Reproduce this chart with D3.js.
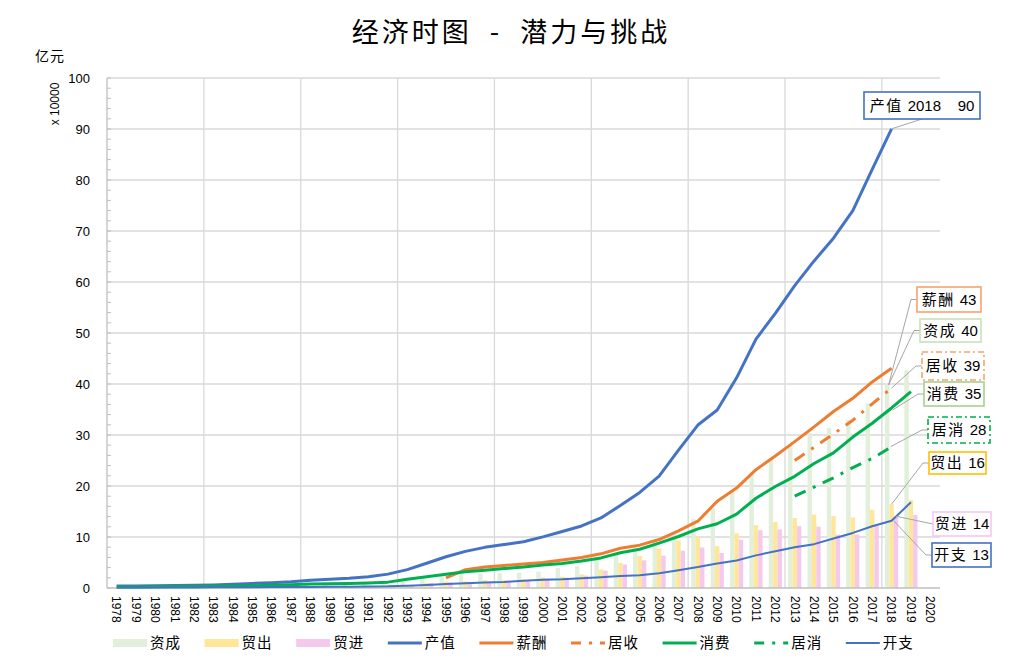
<!DOCTYPE html>
<html><head><meta charset="utf-8">
<script src="https://cdn.jsdelivr.net/npm/d3@7"></script>
<style>body{margin:0;background:#fff} svg{display:block}</style>
</head><body><svg id="c" width="1018" height="665"></svg>
<script>
// ---------------- DATA ----------------
const years = ["1978","1979","1980","1981","1982","1983","1984","1985","1986","1987","1988","1989","1990","1991","1992","1993","1994","1995","1996","1997","1998","1999","2000","2001","2002","2003","2004","2005","2006","2007","2008","2009","2010","2011","2012","2013","2014","2015","2016","2017","2018","2019","2020"];
const yTicks = [0,10,20,30,40,50,60,70,80,90,100];
// bars
const ziCheng = [0.14,0.15,0.16,0.16,0.18,0.2,0.25,0.34,0.38,0.44,0.57,0.61,0.64,0.75,1.0,1.5,1.9,2.3,2.7,2.8,2.9,3.0,3.2,3.9,4.3,5.5,6.8,7.8,9.0,11.0,13.5,15.6,18.8,22.6,25.2,28.0,30.4,31.4,33.0,36.2,39.8,42.7,null];
const maoChu = [0.02,0.02,0.03,0.04,0.04,0.04,0.06,0.08,0.11,0.15,0.18,0.2,0.3,0.38,0.47,0.53,1.04,1.25,1.29,1.52,1.52,1.69,2.06,2.22,2.69,3.63,4.91,6.26,7.76,9.35,10.04,8.2,10.7,12.32,12.93,13.72,14.39,14.12,13.84,15.33,16.42,17.23,null];
const maoJin = [0.02,0.02,0.03,0.04,0.04,0.04,0.06,0.13,0.15,0.16,0.21,0.22,0.25,0.34,0.44,0.6,0.99,1.1,1.16,1.18,1.16,1.37,1.86,2.02,2.44,3.42,4.62,5.43,6.34,7.31,7.95,6.86,9.47,11.32,11.48,12.12,12.04,10.45,10.49,12.47,14.09,14.31,null];
// lines
const chanZhi = [0.37,0.41,0.46,0.49,0.54,0.6,0.72,0.9,1.03,1.21,1.5,1.7,1.89,2.2,2.72,3.6,4.86,6.13,7.18,7.97,8.52,9.06,10.03,11.09,12.17,13.74,16.18,18.73,21.94,27.02,31.95,34.91,41.21,48.79,53.86,59.3,64.13,68.59,74.01,82.08,90.03,null,null];
const xinChou = [null,null,null,null,null,null,null,null,null,null,null,null,null,null,null,null,null,2.0,3.6,4.1,4.4,4.7,5.0,5.5,6.0,6.7,7.8,8.4,9.5,11.2,13.1,17.0,19.6,23.2,25.9,28.7,31.6,34.6,37.2,40.4,43.1,null,null];
const juShou = [null,null,null,null,null,null,null,null,null,null,null,null,null,null,null,null,null,null,null,null,null,null,null,null,null,null,null,null,null,null,null,null,null,null,null,25.0,27.6,30.2,32.9,36.1,39.2,null,null];
const xiaoFei = [0.2,0.22,0.25,0.28,0.3,0.33,0.38,0.45,0.55,0.65,0.8,0.85,0.9,1.0,1.15,1.7,2.2,2.7,3.2,3.5,3.8,4.1,4.5,4.8,5.3,5.9,6.9,7.6,8.8,10.1,11.6,12.6,14.5,17.6,19.9,21.9,24.4,26.5,29.6,32.3,35.3,38.5,null];
const juXiao = [null,null,null,null,null,null,null,null,null,null,null,null,null,null,null,null,null,null,null,null,null,null,null,null,null,null,null,null,null,null,null,null,null,null,null,18.0,19.8,21.6,23.6,25.4,27.7,null,null];
const kaiZhi = [0.1,0.1,0.1,0.1,0.12,0.13,0.15,0.17,0.18,0.2,0.22,0.24,0.26,0.28,0.32,0.45,0.6,0.8,0.95,1.1,1.2,1.4,1.6,1.7,1.9,2.1,2.35,2.5,2.9,3.5,4.1,4.8,5.4,6.4,7.2,8.0,8.6,9.7,10.8,12.1,13.2,16.8,null];

// ---------------- LAYOUT ----------------
const svg = d3.select('#c');
const M = {l:107, r:940, t:78, b:588};
const CJK = '"Noto Sans CJK SC", sans-serif';
const LAT = '"Liberation Sans", Arial, sans-serif';
const x = d3.scaleBand().domain(years).range([M.l, M.r]);
const bw = x.bandwidth();
const cx = d => x(d) + bw/2;
const y = d3.scaleLinear().domain([0,100]).range([M.b, M.t]);
const barKeys = ['资成','贸出','贸进'];
const xi = d3.scaleBand().domain(barKeys).range([-6.6, 6.6]);
const NB = '\u00a0';

// title
svg.append('text').attr('x',511).attr('y',42).attr('text-anchor','middle')
  .attr('font-family',CJK).attr('font-size',27).attr('letter-spacing',3).attr('fill','#000')
  .text('经济时图' + NB + NB + '-' + NB + NB + '潜力与挑战');

// gridlines
const grid = svg.append('g').attr('stroke','#d9d9d9').attr('stroke-width',1.3);
grid.selectAll('line.h').data(yTicks.slice(1)).join('line').attr('class','h')
  .attr('x1',M.l).attr('x2',M.r).attr('y1',d=>y(d)).attr('y2',d=>y(d));
grid.selectAll('line.v').data(years.filter((d,i)=>i>0 && i%5===0)).join('line').attr('class','v')
  .attr('x1',d=>x(d)).attr('x2',d=>x(d)).attr('y1',M.t).attr('y2',M.b);

// y axis
const ya = svg.append('g').attr('transform',`translate(${M.l},0)`)
  .call(d3.axisLeft(y).tickValues(yTicks).tickSize(0).tickPadding(17));
ya.select('.domain').remove();
ya.selectAll('text').attr('font-family',LAT).attr('font-size',13).attr('fill','#000');
svg.append('line').attr('x1',M.l).attr('x2',M.l).attr('y1',M.t).attr('y2',M.b).attr('stroke','#bfbfbf').attr('stroke-width',1.3);
svg.append('g').selectAll('line').data(d3.range(0,101,2)).join('line')
  .attr('x1',M.l).attr('x2',M.l+4).attr('y1',d=>y(d)).attr('y2',d=>y(d)).attr('stroke','#bfbfbf').attr('stroke-width',1);

svg.append('text').attr('transform','translate(59,104) rotate(-90)').attr('text-anchor','middle')
  .attr('font-family',LAT).attr('font-size',12).text('x 10000');
svg.append('text').attr('x',50).attr('y',61).attr('text-anchor','middle')
  .attr('font-family',CJK).attr('font-size',14).attr('letter-spacing',1).text('亿元');

// bars
const barSeries = [{k:'资成',v:ziCheng,c:'#e2efda'},{k:'贸出',v:maoChu,c:'#ffe699'},{k:'贸进',v:maoJin,c:'#f5c8ee'}];
const bars = svg.append('g');
barSeries.forEach(s=>{
  bars.selectAll(null).data(years.map((yr,i)=>({yr,v:s.v[i]})).filter(d=>d.v!=null)).join('rect')
    .attr('x',d=>cx(d.yr)+xi(s.k)).attr('width',xi.bandwidth())
    .attr('y',d=>y(d.v)).attr('height',d=>y(0)-y(d.v)).attr('fill',s.c);
});

// x axis
svg.append('line').attr('x1',M.l).attr('x2',M.r).attr('y1',M.b).attr('y2',M.b).attr('stroke','#bfbfbf').attr('stroke-width',1.3);
svg.append('g').selectAll('text').data(years).join('text')
  .attr('transform',d=>`translate(${cx(d)},596) rotate(90)`).attr('dy','0.35em')
  .attr('font-family',LAT).attr('font-size',12).attr('fill','#000').text(d=>d);

// lines
const lineSeries = [
  {k:'产值',v:chanZhi,c:'#4472c4',w:3,dash:null},
  {k:'薪酬',v:xinChou,c:'#ed7d31',w:3,dash:null},
  {k:'居收',v:juShou,c:'#ed7d31',w:3,dash:'12,8,3,8'},
  {k:'消费',v:xiaoFei,c:'#00b050',w:3,dash:null},
  {k:'居消',v:juXiao,c:'#00b050',w:3,dash:'12,8,3,8'},
  {k:'开支',v:kaiZhi,c:'#4472c4',w:2,dash:null}
];
const lg = d3.line().defined(d=>d!=null).x((d,i)=>cx(years[i])).y(d=>y(d));
lineSeries.forEach(s=>{
  svg.append('path').attr('d',lg(s.v)).attr('fill','none').attr('stroke',s.c).attr('stroke-width',s.w)
    .attr('stroke-linejoin','round').attr('stroke-dasharray',s.dash);
});

// callouts
const i18 = years.indexOf('2018');
const callouts = [
  {n:'产值', v:'2018' + NB + NB + NB + ' 90', bx:864, by:92, bw:116, bh:27, c:'#4472c4', dash:null, tx:cx('2018'), ty:y(chanZhi[i18]), lx:922, ly:119, mid:false},
  {n:'薪酬', v:'43', bx:917, by:287, bw:64, bh:25, c:'#f4a46c', dash:null, tx:cx('2018')-3, ty:y(ziCheng[i18]), mid:true},
  {n:'资成', v:'40', bx:920, by:319, bw:61, bh:23, c:'#c9e2b9', dash:null, tx:cx('2018')-3, ty:y(ziCheng[i18]), mid:true},
  {n:'居收', v:'39', bx:922, by:352, bw:62, bh:28, c:'#f4a46c', dash:'6,3,2,3', tx:cx('2018'), ty:y(juShou[i18]), mid:true},
  {n:'消费', v:'35', bx:924, by:382, bw:60, bh:24, c:'#a9d18e', dash:null, tx:cx('2018')+1, ty:y(xiaoFei[i18])+2, mid:true},
  {n:'居消', v:'28', bx:928, by:417, bw:62, bh:26, c:'#00b050', dash:'6,3,2,3', tx:cx('2018')-1, ty:y(juXiao[i18]), mid:true},
  {n:'贸出', v:'16', bx:929, by:452, bw:57, bh:22, c:'#ffc000', dash:null, tx:cx('2018'), ty:y(maoChu[i18]), mid:true},
  {n:'贸进', v:'14', bx:933, by:512, bw:58, bh:24, c:'#f5c8ee', dash:null, tx:cx('2018')+4, ty:y(maoJin[i18]), mid:true, straight:true},
  {n:'开支', v:'13', bx:932, by:543, bw:59, bh:24, c:'#4472c4', dash:null, tx:cx('2018')+2, ty:y(kaiZhi[i18]), mid:true}
];
const cg = svg.append('g');
callouts.forEach(o=>{
  let pts;
  if(!o.mid){ pts=[[o.lx,o.ly],[o.tx,o.ty]]; }
  else {
    const my = o.by + o.bh/2;
    pts = o.straight ? [[o.bx,my],[o.tx,o.ty]] : [[o.bx,my],[o.bx-6,my],[o.tx,o.ty]];
  }
  cg.append('path').attr('d',d3.line()(pts)).attr('fill','none').attr('stroke','#a6a6a6').attr('stroke-width',1);
  cg.append('rect').attr('x',o.bx).attr('y',o.by).attr('width',o.bw).attr('height',o.bh)
    .attr('fill','#fff').attr('stroke',o.c).attr('stroke-width',1.6).attr('stroke-dasharray',o.dash);
  const t = cg.append('text').attr('x',o.bx+o.bw/2).attr('y',o.by+o.bh/2).attr('dy','0.36em').attr('text-anchor','middle')
    .attr('font-size',15).attr('fill','#000');
  t.append('tspan').attr('font-family',CJK).attr('letter-spacing',1.5).text(o.n);
  t.append('tspan').attr('font-family',LAT).attr('dx',5).text(o.v);
});

// legend
const legend = [
  {k:'资成',type:'rect',c:'#e2efda'},{k:'贸出',type:'rect',c:'#ffe699'},{k:'贸进',type:'rect',c:'#f5c8ee'},
  {k:'产值',type:'line',c:'#4472c4',w:3},{k:'薪酬',type:'line',c:'#ed7d31',w:3},{k:'居收',type:'line',c:'#ed7d31',w:3,dash:'10,8,3,8'},
  {k:'消费',type:'line',c:'#00b050',w:3},{k:'居消',type:'line',c:'#00b050',w:3,dash:'10,8,3,8'},{k:'开支',type:'line',c:'#4472c4',w:2}
];
const LY = 643;
legend.forEach((d,i)=>{
  const x0 = 113 + i*91.6;
  if(d.type==='rect') svg.append('rect').attr('x',x0).attr('y',LY-4).attr('width',34).attr('height',8).attr('fill',d.c);
  else svg.append('line').attr('x1',x0).attr('x2',x0+34).attr('y1',LY).attr('y2',LY).attr('stroke',d.c).attr('stroke-width',d.w).attr('stroke-dasharray',d.dash||null);
  svg.append('text').attr('x',x0+37).attr('y',LY).attr('dy','0.36em').attr('font-family',CJK).attr('font-size',14.5).attr('letter-spacing',1).text(d.k);
});
</script></body></html>
